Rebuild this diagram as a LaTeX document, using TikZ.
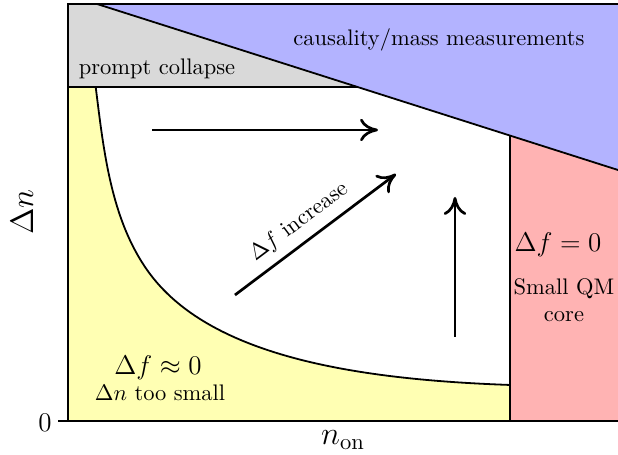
\documentclass[tikz,border=0pt]{standalone}
\usepackage{tikz}
\usetikzlibrary{arrows.meta}
\definecolor{collapseGray}{HTML}{D9D9D9}
\definecolor{causalBlue}{HTML}{B3B3FF}
\definecolor{coreRed}{HTML}{FFB3B3}
\definecolor{smallYellow}{HTML}{FFFFB3}
\begin{document}
\begin{tikzpicture}[edge/.style={thick}, frame/.style={very thick}, arr/.style={very thick, -{To[length=8pt,width=10pt]}}]
\useasboundingbox (-1.0625,-0.531) rectangle (8.594,6.578);
\def\border{(0.433,5.219) .. controls (0.557,4.227) and (0.670,3.144) .. (1.255,2.333) .. controls (2.191,1.035) and (4.411,0.65) .. (6.906,0.563)}
\fill[smallYellow] (0,0) -- (0,5.219) -- \border -- (6.906,0) -- cycle;
\fill[coreRed] (6.906,0) -- (6.906,4.460) -- (8.594,3.922) -- (8.594,0) -- cycle;
\fill[causalBlue] (0.453,6.516) -- (8.594,6.516) -- (8.594,3.922) -- cycle;
\fill[collapseGray] (0,6.516) -- (0.453,6.516) -- (4.516,5.219) -- (0,5.219) -- cycle;
\draw[edge] \border;
\draw[edge] (0.453,6.516) -- (8.594,3.922);
\draw[edge] (0,5.219) -- (4.516,5.219);
\draw[edge] (6.906,0) -- (6.906,4.460);
\draw[frame] (8.594,6.516) -- (0,6.516) -- (0,0) -- (8.594,0);
\draw[frame] (-0.156,0) -- (0,0);

\coordinate (hs) at (1.313,4.547);
\coordinate (he) at (4.844,4.547);
\coordinate (ds) at (2.609,1.969);
\coordinate (de) at (5.125,3.859);
\coordinate (vs) at (6.047,1.313);
\coordinate (ve) at (6.047,3.500);
\foreach \s/\e in {hs/he, ds/de, vs/ve} {
  \draw[arr] (\s) -- (\e);
}

\node (causal) at (5.797,5.953) {causality/mass measurements};
\node (collapse) at (1.391,5.5) {prompt collapse};
\node (increase) at (3.609,3.109) [rotate=37] {$\Delta f$ increase};
\node (approx) at (1.406,0.828) {\large $\Delta f \approx 0$};
\node (small) at (1.438,0.438) {$\Delta n$ too small};
\node (zero) at (7.656,2.75) {\large $\Delta f = 0$};
\node (core) at (7.75,1.89) [align=center, inner sep=0pt] {Small QM\\core};
\node (ylab) at (-0.719,3.266) [rotate=90] {\Large $\Delta n$};
\node (xlab) at (4.297,-0.297) {\Large $n_{\rm on}$};
\node (origin) at (-0.359,-0.031) {\large 0};
\end{tikzpicture}
\end{document}
